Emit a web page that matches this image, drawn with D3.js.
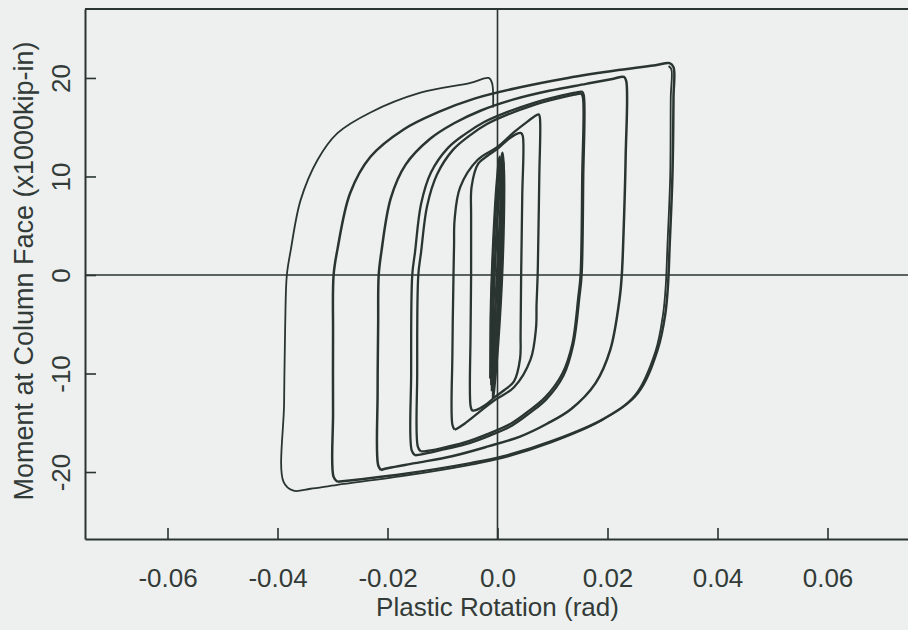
<!DOCTYPE html>
<html>
<head>
<meta charset="utf-8">
<script src="https://cdn.jsdelivr.net/npm/d3@7"></script>
<style>
  body { margin: 0; background: #edf0ef; }
  text { font-family: "Liberation Sans", Arial, Helvetica, sans-serif; fill: #333b38; }
</style>
</head>
<body>
<svg id="chart" width="908" height="630"></svg>
<script>
// Axis ticks
const xTickValues = [-0.06, -0.04, -0.02, 0, 0.02, 0.04, 0.06];
const xTickLabels = ["-0.06", "-0.04", "-0.02", "0.0", "0.02", "0.04", "0.06"];
const yTickValues = [-20, -10, 0, 10, 20];
const yTickLabels = ["-20", "-10", "0", "10", "20"];

// Hysteresis record: [plastic rotation (rad), moment (x1000 kip-in)]
// Elastic-range cycles around zero rotation
const elasticCycle1 = [[-0.0010,-11.8],[-0.0008,-4],[-0.0002,4],[0.0005,10],[0.0009,12.4],[0.0011,11],[0.0008,4],[0.0001,-4],[-0.0006,-10],[-0.0010,-11.8]];
const elasticCycle2 = [[-0.0013,-10.5],[-0.0011,-3],[-0.0005,5],[0.0003,10.8],[0.0007,11.6],[0.0009,10],[0.0006,2],[-0.0002,-6],[-0.0009,-10.5],[-0.0013,-10.5]];
const elasticCycle3 = [[-0.0008,-12.5],[-0.0005,-5],[0.0002,3],[0.0008,9],[0.0011,11.5],[0.0012,9],[0.0009,1],[0.0001,-7],[-0.0006,-11.5],[-0.0008,-12.5]];
const elasticCycle4 = [[-0.0011,-11.2],[-0.0012,-4],[-0.0007,4],[-0.0001,9.5],[0.0004,12.0],[0.0006,10],[0.0004,3],[-0.0001,-5],[-0.0007,-10.5],[-0.0011,-11.2]];

const loop1 = [[-0.0046,-13.8],[-0.0049,-13.3],[-0.0049,-6],[-0.0048,0],[-0.0048,6],[-0.0047,9],[-0.0035,11.3],[-0.0018,12.1],[0,12.8],[0.0018,13.7],[0.0034,14.3],[0.0043,14.4],[0.0046,14.1],
  [0.0045,8],[0.0043,0],[0.0042,-6],[0.0041,-8.5],[0.0030,-10.8],[0.0012,-11.7],[-0.0005,-12.4],[-0.0022,-13.2],[-0.0038,-13.7],[-0.0046,-13.8]];

const loop2 = [[-0.0078,-15.7],[-0.0082,-15.2],[-0.0082,-8],[-0.0080,0],[-0.0079,3],[-0.0078,5.6],[-0.0068,8.9],[-0.0036,11.7],[0,13.0],[0.0030,14.5],[0.0055,15.6],[0.0070,16.2],[0.0075,16.3],[0.0077,16.0],
  [0.0076,10],[0.0074,3],[0.0073,0],[0.0071,-3],[0.0070,-5.4],[0.0060,-8.6],[0.0030,-11.4],[-0.0005,-12.7],[-0.0035,-14.0],[-0.0060,-15.1],[-0.0074,-15.6],[-0.0078,-15.7]];

const loop3a = [[-0.0150,-18.3],[-0.0156,-17.8],[-0.0157,-10],[-0.0155,0],[-0.0150,2.3],[-0.0139,7.2],[-0.0121,10.4],[-0.0090,12.9],[-0.0059,14.3],[-0.0025,15.5],[0.0016,16.5],[0.0062,17.4],[0.0108,18.1],[0.0141,18.5],[0.0154,18.6],[0.0157,18.2],
  [0.0156,10],[0.0153,0],[0.0149,-2.2],[0.0138,-7.0],[0.0120,-10.2],[0.0089,-12.6],[0.0059,-14.0],[0.0026,-15.3],[-0.0014,-16.3],[-0.0059,-17.2],[-0.0105,-17.8],[-0.0138,-18.2],[-0.0150,-18.3]];

const loop3b = [[-0.0140,-17.9],[-0.0145,-17.4],[-0.0146,-10],[-0.0144,0],[-0.0139,2.3],[-0.0128,7.0],[-0.0110,10.2],[-0.0081,12.7],[-0.0052,14.1],[-0.0020,15.3],[0.0019,16.3],[0.0063,17.2],[0.0108,17.9],[0.0140,18.3],[0.0152,18.4],[0.0155,18.1],
  [0.0154,10],[0.0151,0],[0.0147,-2.2],[0.0136,-7.0],[0.0118,-10.0],[0.0087,-12.4],[0.0057,-13.8],[0.0024,-15.1],[-0.0016,-16.1],[-0.0060,-17.0],[-0.0103,-17.6],[-0.0133,-17.9],[-0.0140,-17.9]];

const loop4 = [[-0.0212,-19.8],[-0.0217,-19.3],[-0.0218,-12],[-0.0217,-5],[-0.0216,0],[-0.0211,2.4],[-0.0194,7.8],[-0.0167,11.2],[-0.0123,13.8],[-0.0079,15.4],[-0.0030,16.7],[0.0028,17.8],[0.0094,18.7],[0.0161,19.4],[0.0209,19.9],[0.0230,20.1],[0.0234,19.7],
  [0.0233,12],[0.0229,4],[0.0226,0],[0.0222,-2.4],[0.0205,-7.6],[0.0178,-11.0],[0.0134,-13.6],[0.0090,-15.1],[0.0041,-16.4],[-0.0017,-17.4],[-0.0083,-18.4],[-0.0150,-19.1],[-0.0198,-19.6],[-0.0212,-19.8]];

const loop5 = [[-0.0291,-21.0],[-0.0298,-20.5],[-0.0299,-14],[-0.0299,-6],[-0.0298,0],[-0.0291,2.6],[-0.0268,8.3],[-0.0231,12.0],[-0.0170,14.8],[-0.0109,16.5],[-0.0042,17.9],[0.0037,19.0],[0.0128,20.0],[0.0220,20.8],[0.0287,21.3],[0.0313,21.5],[0.0320,21.1],
  [0.0320,18],[0.0318,10],[0.0313,3],[0.0310,-1],[0.0305,-4],[0.0291,-7.6],[0.0255,-12.0],[0.0193,-14.6],[0.0102,-16.8],[0.0011,-18.4],[-0.0049,-19.1],[-0.0171,-20.2],[-0.0260,-20.8],[-0.0291,-21.0]];

// Last reversal out to the largest negative rotation and back up
const finalExcursion = [[0.0311,21.2],[0.0316,20.9],[0.0315,18],[0.0314,10],[0.0309,3],[0.0306,-1],[0.0301,-4],[0.0287,-7.8],[0.0250,-12.2],[0.0188,-14.8],[0.0098,-17.0],[0.0008,-18.6],[-0.0052,-19.3],[-0.0171,-20.4],[-0.0291,-21.3],[-0.0340,-21.7],[-0.0371,-21.9],[-0.0389,-21.0],
  [-0.0388,-13],[-0.0386,-5],[-0.0383,0],[-0.0376,2.5],[-0.0358,7.6],[-0.0327,11.7],[-0.0291,14.4],[-0.0231,16.5],[-0.0140,18.5],[-0.0049,19.5],[-0.0016,20.0],[-0.0010,19.5],[-0.0008,17]];

const W = 908, H = 630;
const ink = "#2a3431";
const svg = d3.select("#chart");

svg.append("rect").attr("width", W).attr("height", H).attr("fill", "#edf0ef");

const x = d3.scaleLinear().domain([-0.075, 0.075]).range([85, 910]);
const y = d3.scaleLinear().domain([-26.8, 27.0]).range([539, 9]);

// Frame
svg.append("line").attr("x1", x(-0.075)).attr("x2", W).attr("y1", y(27)).attr("y2", y(27))
  .attr("stroke", ink).attr("stroke-width", 2);

// Reference lines through zero
svg.append("line").attr("x1", x(-0.075)).attr("x2", W).attr("y1", y(0)).attr("y2", y(0))
  .attr("stroke", ink).attr("stroke-width", 1.6);
svg.append("line").attr("x1", x(0)).attr("x2", x(0)).attr("y1", y(27)).attr("y2", y(-26.8))
  .attr("stroke", ink).attr("stroke-width", 1.6);

// Bottom axis
const xAxis = d3.axisBottom(x).tickValues(xTickValues)
  .tickFormat((d, i) => xTickLabels[i]).tickSizeInner(-11).tickSizeOuter(0);
const gx = svg.append("g").attr("transform", `translate(0,${y(-26.8)})`).call(xAxis);
gx.select(".domain").attr("stroke", ink).attr("stroke-width", 2);
gx.selectAll(".tick line").attr("stroke", ink).attr("stroke-width", 1.6);
gx.selectAll(".tick text").attr("y", 48).attr("dy", null)
  .style("font-size", "26px").attr("fill", "#333b38");

// Left axis
const yAxis = d3.axisLeft(y).tickValues(yTickValues)
  .tickFormat((d, i) => yTickLabels[i]).tickSizeInner(-11).tickSizeOuter(0);
const gy = svg.append("g").attr("transform", `translate(${x(-0.075)},0)`).call(yAxis);
gy.select(".domain").attr("stroke", ink).attr("stroke-width", 2);
gy.selectAll(".tick line").attr("stroke", ink).attr("stroke-width", 1.6);
gy.selectAll(".tick text").attr("x", null).attr("dy", null)
  .attr("text-anchor", "middle").attr("transform", "translate(-15,0) rotate(-90)")
  .style("font-size", "26px").attr("fill", "#333b38");

// Axis titles
svg.append("text").attr("x", x(0)).attr("y", 616).attr("text-anchor", "middle")
  .style("font-size", "26px").text("Plastic Rotation (rad)");
svg.append("text").attr("transform", `translate(33,${271}) rotate(-90)`).attr("text-anchor", "middle")
  .style("font-size", "27px").text("Moment at Column Face (x1000kip-in)");

// Hysteresis curves
const line = d3.line().x(d => x(d[0])).y(d => y(d[1])).curve(d3.curveCatmullRom.alpha(0.5));
const curves = [
  { data: elasticCycle1, w: 2.6 }, { data: elasticCycle2, w: 2.6 }, { data: elasticCycle3, w: 2.6 }, { data: elasticCycle4, w: 2.6 },
  { data: loop1, w: 2.3 }, { data: loop2, w: 2.3 }, { data: loop3a, w: 2.3 }, { data: loop3b, w: 2.3 },
  { data: loop4, w: 2.5 }, { data: loop5, w: 2.5 }, { data: finalExcursion, w: 1.8 }
];
svg.append("g").selectAll("path").data(curves).join("path")
  .attr("d", d => line(d.data)).attr("fill", "none").attr("stroke", ink)
  .attr("stroke-width", d => d.w).attr("stroke-linejoin", "round");
</script>
</body>
</html>
